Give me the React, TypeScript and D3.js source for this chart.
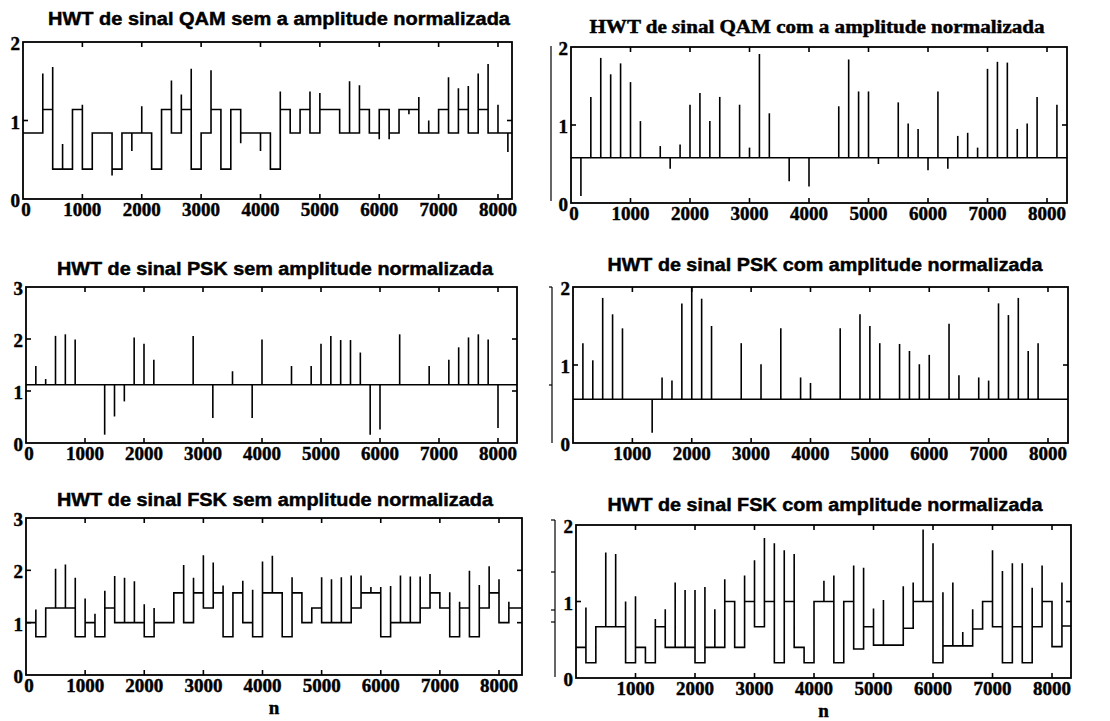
import React from "react";
import * as d3 from "d3";

// one symbol of the modulated signal, in samples (transitions fall on multiples of 1000/6)
const SAMPLES_PER_SYMBOL = 1000 / 6;
const X_TICKS = [0, 1000, 2000, 3000, 4000, 5000, 6000, 7000, 8000];

// ---- HWT QAM sem amplitude normalizada (step signal, level per symbol + spike at start of symbol)
const qamSemLevels = [
  0.84, 0.84, 1.14, 0.38, 0.38, 1.14, 0.38, 0.84, 0.84, 0.38,
  0.84, 0.84, 0.84, 0.38, 1.14, 0.84, 1.14, 0.38, 0.84, 1.14,
  0.38, 1.14, 0.84, 0.84, 0.84, 0.38, 1.14, 0.84, 1.14, 0.84,
  1.14, 1.14, 0.84, 0.84, 1.14, 0.84, 1.14, 0.84, 1.14, 1.14,
  0.84, 0.84, 1.14, 0.84, 1.14, 0.84, 1.14, 0.84, 0.84, 0.84,
];
const qamSemSpikes = [
  null, null, 1.6, 1.68, 0.7, null, 1.2, null, null, 0.3,
  null, 0.61, 1.18, null, null, 1.51, 1.33, 1.66, null, 1.64,
  null, null, 0.71, null, 0.61, null, 1.37, null, null, 1.37,
  1.35, null, null, 1.5, 1.45, null, 0.76, 0.76, null, 1.08,
  1.3, 1.0, null, 1.55, 1.41, 1.44, 1.6, 1.72, 1.2, 0.6,
];

// ---- HWT QAM com amplitude normalizada (stems)
const qamComBase = 0.58;
const qamComSymbols = [1, 2, 3, 4, 5, 6, 7, 9, 10, 11, 12, 13, 14, 15, 17, 18, 19, 20, 22, 24, 27, 28, 29, 30, 31, 33, 34, 35, 36, 37, 38, 39, 40, 41, 42, 43, 44, 45, 46, 47, 49];
const qamComValues = [0.09, 1.36, 1.86, 1.65, 1.79, 1.55, 1.05, 0.73, 0.44, 0.75, 1.26, 1.41, 1.05, 1.36, 1.26, 0.71, 1.91, 1.15, 0.28, 0.21, 1.24, 1.84, 1.43, 1.43, 0.5, 1.29, 1.02, 0.95, 0.42, 1.43, 0.44, 0.86, 0.9, 0.71, 1.72, 1.81, 1.8, 0.95, 1.02, 1.36, 1.26];

// ---- HWT PSK sem amplitude normalizada (stems)
const pskSemBase = 1.12;
const pskSemSymbols = [1, 2, 3, 4, 5, 8, 9, 10, 11, 12, 13, 17, 19, 21, 23, 24, 27, 29, 30, 31, 32, 33, 34, 35, 36, 38, 41, 43, 44, 45, 46, 47, 48];
const pskSemValues = [1.48, 1.23, 2.06, 2.09, 1.99, 0.16, 0.51, 0.8, 2.03, 1.91, 1.6, 2.06, 0.48, 1.38, 0.48, 1.99, 1.48, 1.48, 1.91, 2.06, 1.98, 1.98, 1.74, 0.16, 0.26, 2.09, 1.48, 1.6, 1.84, 2.03, 2.09, 1.99, 0.29];

// ---- HWT PSK com amplitude normalizada (stems)
const pskComBase = 0.56;
const pskComSymbols = [1, 2, 3, 4, 5, 8, 9, 10, 11, 12, 13, 14, 17, 19, 21, 23, 24, 27, 29, 30, 31, 33, 34, 35, 36, 38, 39, 41, 42, 43, 44, 45, 46, 47];
const pskComValues = [1.28, 1.06, 1.86, 1.65, 1.47, 0.13, 0.84, 0.8, 1.79, 2.0, 1.85, 1.5, 1.28, 1.01, 1.47, 0.84, 0.77, 1.47, 1.65, 1.5, 1.28, 1.27, 1.18, 1.01, 1.13, 1.53, 0.87, 0.84, 0.8, 1.79, 1.64, 1.86, 1.18, 1.28];

// ---- HWT FSK sem amplitude normalizada (step)
const fskSemLevels = [
  1.0, 0.73, 1.28, 1.28, 1.28, 0.73, 1.0, 0.73, 1.28, 1.0,
  1.0, 1.0, 0.73, 1.0, 1.0, 1.57, 1.0, 1.57, 1.28, 1.57,
  0.73, 1.57, 1.0, 0.73, 1.57, 1.57, 0.73, 1.57, 1.0, 1.28,
  1.0, 1.0, 1.0, 1.28, 1.57, 1.57, 0.73, 1.0, 1.0, 1.0,
  1.28, 1.57, 1.28, 0.73, 1.28, 0.73, 1.28, 1.57, 1.0, 1.28,
];
const fskSemSpikes = [
  null, 1.25, null, 2.03, 2.11, 1.86, 1.46, 1.17, 1.61, 1.89,
  1.86, 1.79, 1.35, 1.28, null, null, 2.1, 1.86, 2.29, 2.15,
  1.71, null, 1.8, 1.63, 2.17, 2.28, null, 1.87, null, null,
  1.87, 1.83, 1.87, 1.9, 1.9, 1.68, 1.68, 1.7, 1.9, 1.88,
  1.88, 1.93, null, 1.58, 1.4, 1.99, 1.72, 2.08, 1.83, 1.4,
];

// ---- HWT FSK com amplitude normalizada (step)
const fskComLevels = [
  0.4, 0.2, 0.67, 0.67, 0.67, 0.2, 0.4, 0.2, 0.67, 0.4,
  0.4, 0.4, 0.2, 0.4, 0.4, 1.0, 0.4, 1.0, 0.67, 1.0,
  0.2, 1.0, 0.4, 0.2, 1.0, 1.0, 0.2, 1.0, 0.38, 0.67,
  0.43, 0.43, 0.43, 0.65, 1.0, 1.0, 0.2, 0.42, 0.42, 0.42,
  0.64, 1.0, 0.67, 0.2, 0.67, 0.2, 0.67, 1.0, 0.41, 0.68,
];
const fskComSpikes = [
  null, 0.92, null, 1.64, 1.62, 1.0, 1.07, null, 0.77, 0.9,
  1.25, 1.15, 1.15, 1.19, 0.9, 1.29, null, 1.34, 1.54, 1.83,
  1.76, 1.67, 1.62, null, null, 1.27, 1.34, null, 1.47, 1.44,
  0.91, 1.02, null, 1.2, 1.25, 1.94, 1.76, 1.12, 1.25, 0.6,
  0.9, null, 1.67, 1.4, 1.5, 1.5, 1.18, 1.47, null, 1.25,
];

const SERIF = "'Liberation Serif', 'DejaVu Serif', serif";
const SANS = "'Liberation Sans', Arial, sans-serif";

type Layout = {
  left: number; top: number; right: number; bottom: number;
  xMax: number; yMax: number;
  xLabels: number[];
  title: React.ReactNode; titleFont: string; titleX: number; titleY: number; titleLen: number;
  xName?: boolean;
};

function Axes({ L, children }: { L: Layout; children: (x: d3.ScaleLinear<number, number>, y: d3.ScaleLinear<number, number>) => React.ReactNode }) {
  const x = d3.scaleLinear().domain([0, L.xMax]).range([L.left, L.right]);
  const y = d3.scaleLinear().domain([0, L.yMax]).range([L.bottom, L.top]);
  const yTicks = d3.range(0, L.yMax + 1);
  const tk = 5;
  const heavy = { stroke: "#000", strokeWidth: 0.45 };
  return (
    <g>
      <text x={L.titleX} y={L.titleY} textAnchor="middle" fontFamily={L.titleFont} fontWeight="bold" fontSize={18}
        textLength={L.titleLen} lengthAdjust="spacingAndGlyphs" {...heavy}>{L.title}</text>
      {children(x, y)}
      <rect x={L.left} y={L.top} width={L.right - L.left} height={L.bottom - L.top} fill="none" stroke="#000" strokeWidth={1.8} />
      {X_TICKS.filter((v) => v > 0).map((v) => (
        <g key={"xt" + v} stroke="#000" strokeWidth={1.6}>
          <line x1={x(v)} x2={x(v)} y1={L.bottom} y2={L.bottom - tk} />
          <line x1={x(v)} x2={x(v)} y1={L.top} y2={L.top + tk} />
        </g>
      ))}
      {yTicks.filter((v) => v > 0 && v < L.yMax).map((v) => (
        <g key={"yt" + v} stroke="#000" strokeWidth={1.6}>
          <line x1={L.left} x2={L.left + tk} y1={y(v)} y2={y(v)} />
          <line x1={L.right} x2={L.right - tk} y1={y(v)} y2={y(v)} />
        </g>
      ))}
      {L.xLabels.map((v) => (
        <text key={"xl" + v} x={x(v) + (v === 0 ? 3 : 0)} y={L.bottom + 17} textAnchor="middle" fontFamily={SERIF} fontWeight="bold" fontSize={19} {...heavy}>{v}</text>
      ))}
      {yTicks.map((v) => (
        <text key={"yl" + v} x={L.left - 3} y={y(v) + 8} textAnchor="end" fontFamily={SERIF} fontWeight="bold" fontSize={19} {...heavy}>{v}</text>
      ))}
      {L.xName && (
        <text x={(L.left + L.right) / 2} y={L.bottom + 39} textAnchor="middle" fontFamily={SERIF} fontWeight="bold" fontSize={19} {...heavy}>n</text>
      )}
    </g>
  );
}

function stepPath(levels: number[], spikes: (number | null)[], xMax: number, x: any, y: any) {
  const pts: [number, number][] = [[0, levels[0]]];
  for (let k = 1; k < levels.length; k++) {
    const n = k * SAMPLES_PER_SYMBOL;
    pts.push([n, levels[k - 1]]);
    if (spikes[k] !== null) pts.push([n, spikes[k] as number]);
    pts.push([n, levels[k]]);
  }
  pts.push([xMax, levels[levels.length - 1]]);
  return d3.line<[number, number]>().x((d) => x(d[0])).y((d) => y(d[1]))(pts) || "";
}

function StepPanel({ L, levels, spikes }: { L: Layout; levels: number[]; spikes: (number | null)[] }) {
  return (
    <Axes L={L}>
      {(x, y) => <path d={stepPath(levels, spikes, L.xMax, x, y)} fill="none" stroke="#000" strokeWidth={1.6} />}
    </Axes>
  );
}

function StemPanel({ L, base, symbols, values }: { L: Layout; base: number; symbols: number[]; values: number[] }) {
  return (
    <Axes L={L}>
      {(x, y) => (
        <g stroke="#000" strokeWidth={1.6}>
          <line x1={x(0)} x2={x(L.xMax)} y1={y(base)} y2={y(base)} />
          {symbols.map((k, i) => (
            <line key={i} x1={x(k * SAMPLES_PER_SYMBOL)} x2={x(k * SAMPLES_PER_SYMBOL)} y1={y(base)} y2={y(values[i])} />
          ))}
        </g>
      )}
    </Axes>
  );
}

const allLabels = X_TICKS;
const noZero = X_TICKS.filter((v) => v > 0);

const L1: Layout = { left: 23, top: 42, right: 512, bottom: 199, xMax: 8236, yMax: 2, xLabels: allLabels,
  title: "HWT de sinal QAM sem a amplitude normalizada", titleFont: SANS, titleX: 279, titleY: 25, titleLen: 462 };
const L2: Layout = { left: 571, top: 47, right: 1067, bottom: 203, xMax: 8336, yMax: 2, xLabels: allLabels,
  title: (<>HWT de <tspan fontStyle="italic">s</tspan>inal QAM com a amplitude normalizada</>), titleFont: SERIF, titleX: 817, titleY: 33, titleLen: 455 };
const L3: Layout = { left: 26, top: 287, right: 517, bottom: 443, xMax: 8322, yMax: 3, xLabels: allLabels,
  title: "HWT de sinal PSK sem amplitude normalizada", titleFont: SANS, titleX: 275, titleY: 275, titleLen: 436 };
const L4: Layout = { left: 573, top: 287, right: 1068, bottom: 443, xMax: 8337, yMax: 2, xLabels: noZero,
  title: "HWT de sinal PSK com amplitude normalizada", titleFont: SANS, titleX: 825, titleY: 271, titleLen: 435 };
const L5: Layout = { left: 26, top: 518, right: 522, bottom: 675, xMax: 8389, yMax: 3, xLabels: allLabels,
  title: "HWT de sinal FSK sem amplitude normalizada", titleFont: SANS, titleX: 275, titleY: 506, titleLen: 436, xName: true };
const L6: Layout = { left: 576, top: 525, right: 1071, bottom: 678, xMax: 8319, yMax: 2, xLabels: noZero,
  title: "HWT de sinal FSK com amplitude normalizada", titleFont: SANS, titleX: 825, titleY: 511, titleLen: 435, xName: true };

export default function App() {
  return (
    <svg width={1110} height={721} style={{ position: "absolute", left: 0, top: 0, background: "#fff" }}>
      <rect x={0} y={0} width={1110} height={721} fill="#fff" />
      {/* remnants of neighbouring axes at the seam */}
      <g stroke="#000" strokeWidth={1.2}>
        <line x1={551} x2={551} y1={46} y2={201} />
        <line x1={552} x2={552} y1={287} y2={443} />
        <line x1={549} x2={552} y1={287} y2={287} />
        <line x1={549} x2={552} y1={385} y2={385} />
        <line x1={555} x2={555} y1={520} y2={677} />
        <line x1={551} x2={555} y1={520} y2={520} />
        <line x1={551} x2={555} y1={572} y2={572} />
        <line x1={551} x2={555} y1={610} y2={610} />
        <line x1={551} x2={555} y1={622} y2={622} />
      </g>
      <StepPanel L={L1} levels={qamSemLevels} spikes={qamSemSpikes} />
      <StemPanel L={L2} base={qamComBase} symbols={qamComSymbols} values={qamComValues} />
      <StemPanel L={L3} base={pskSemBase} symbols={pskSemSymbols} values={pskSemValues} />
      <StemPanel L={L4} base={pskComBase} symbols={pskComSymbols} values={pskComValues} />
      <StepPanel L={L5} levels={fskSemLevels} spikes={fskSemSpikes} />
      <StepPanel L={L6} levels={fskComLevels} spikes={fskComSpikes} />
    </svg>
  );
}
